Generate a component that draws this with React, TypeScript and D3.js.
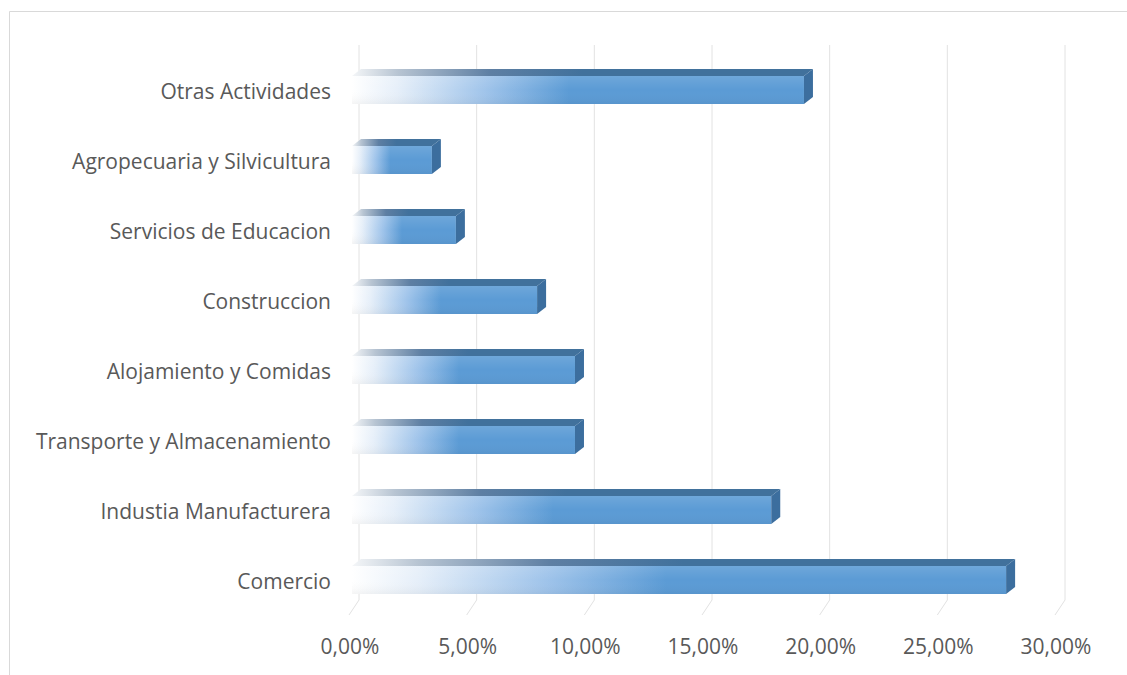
import React from "react";
import * as d3 from "d3";

const categories = [
  "Otras Actividades",
  "Agropecuaria y Silvicultura",
  "Servicios de Educacion",
  "Construccion",
  "Alojamiento y Comidas",
  "Transporte y Almacenamiento",
  "Industia Manufacturera",
  "Comercio",
];
const values = [0.1929, 0.0348, 0.045, 0.0795, 0.0956, 0.0956, 0.179, 0.2788];
const tickValues = [0, 0.05, 0.1, 0.15, 0.2, 0.25, 0.3];

const W = 1127;
const H = 675;
const DX = 9;
const DY = 7;
const BAR_H = 28;

const locale = d3.formatLocale({ decimal: ",", thousands: ".", grouping: [3], currency: ["", "€"] });
const fmt = locale.format(".2%");

export default function App() {
  const x = d3.scaleLinear().domain([0, 0.3]).range([350, 1056]);
  const y = d3.scaleBand().domain(categories).range([55, 615]).paddingInner(0);
  const font = "'Open Sans', 'Noto Sans', sans-serif";
  const textColor = "#595959";
  const grid = "#E2E2E2";

  return (
    <svg width={W} height={H} style={{ position: "absolute", left: 0, top: 0, background: "#fff" }}>
      <defs>
        <linearGradient id="front" x1="0" x2="1" y1="0" y2="0">
          <stop offset="0" stopColor="#FFFFFF" />
          <stop offset="0.1" stopColor="#E6EFF9" />
          <stop offset="0.3" stopColor="#9EC3EA" />
          <stop offset="0.48" stopColor="#5B9BD5" />
          <stop offset="1" stopColor="#5B9BD5" />
        </linearGradient>
        <linearGradient id="frontV" x1="0" x2="0" y1="0" y2="1">
          <stop offset="0" stopColor="#ffffff" stopOpacity="0.12" />
          <stop offset="0.5" stopColor="#ffffff" stopOpacity="0" />
          <stop offset="1" stopColor="#000000" stopOpacity="0.04" />
        </linearGradient>
        <linearGradient id="top" x1="0" x2="1" y1="0" y2="0">
          <stop offset="0" stopColor="#F4F6F8" />
          <stop offset="0.1" stopColor="#B7C4D2" />
          <stop offset="0.3" stopColor="#5E7FA3" />
          <stop offset="0.5" stopColor="#41719C" />
          <stop offset="1" stopColor="#41719C" />
        </linearGradient>
      </defs>
      {/* chart area border */}
      <path d={`M9.5,${H + 2} V11.5 H${W + 2}`} fill="none" stroke="#D9D9D9" strokeWidth={1} />

      {/* gridlines */}
      {tickValues.map((t) => {
        const xb = x(t) + DX;
        return (
          <path
            key={"g" + t}
            d={`M${xb},45 V600 L${xb - 10},615`}
            fill="none"
            stroke={grid}
            strokeWidth={1}
          />
        );
      })}

      {/* bars */}
      {categories.map((c, i) => {
        const cy = (y(c) as number) + y.bandwidth() / 2;
        const y0 = cy - BAR_H / 2;
        const x0 = x(0) + 2;
        const x1 = x(values[i]);
        return (
          <g key={c}>
            <polygon
              points={`${x0},${y0} ${x0 + DX},${y0 - DY} ${x1 + DX},${y0 - DY} ${x1},${y0}`}
              fill="url(#top)"
            />
            <rect x={x0} y={y0} width={x1 - x0} height={BAR_H} fill="url(#front)" />
            <rect x={x0} y={y0} width={x1 - x0} height={BAR_H} fill="url(#frontV)" />
            <polygon
              points={`${x1},${y0} ${x1 + DX},${y0 - DY} ${x1 + DX},${y0 + BAR_H - DY} ${x1},${y0 + BAR_H}`}
              fill="#3C6E9E"
            />
          </g>
        );
      })}

      {/* category labels */}
      {categories.map((c) => (
        <text
          key={"l" + c}
          x={331}
          y={(y(c) as number) + y.bandwidth() / 2 + 3}
          textAnchor="end"
          dominantBaseline="middle"
          fontFamily={font}
          fontSize={21}
          fill={textColor}
        >
          {c}
        </text>
      ))}

      {/* x tick labels */}
      {tickValues.map((t) => (
        <text
          key={"t" + t}
          x={x(t)}
          y={648}
          textAnchor="middle"
          dominantBaseline="middle"
          fontFamily={font}
          fontSize={21}
          fill={textColor}
        >
          {fmt(t)}
        </text>
      ))}
    </svg>
  );
}
